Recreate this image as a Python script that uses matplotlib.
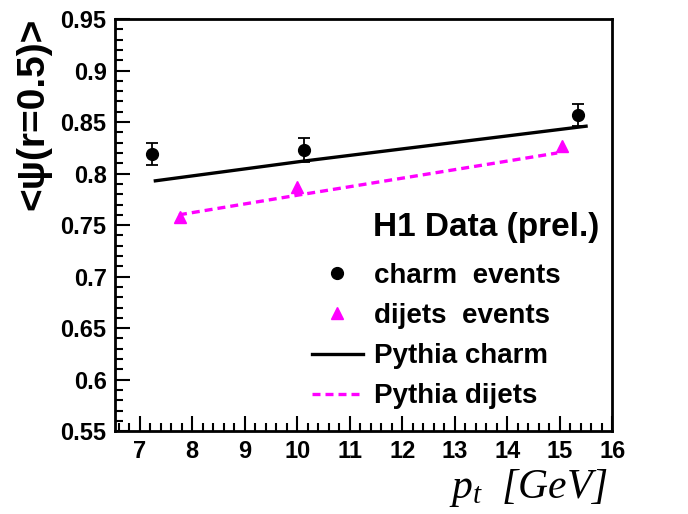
import numpy as np
import matplotlib; matplotlib.use('Agg')
import matplotlib.pyplot as plt
from matplotlib.ticker import MultipleLocator

plt.rcParams['font.family'] = ['Liberation Sans', 'DejaVu Sans']
plt.rcParams['font.weight'] = 'bold'
plt.rcParams['mathtext.fontset'] = 'custom'
plt.rcParams['mathtext.rm'] = 'Liberation Serif:style=italic:weight=normal'
plt.rcParams['mathtext.it'] = 'Liberation Serif:style=italic:weight=normal'

# data
charm_pt = [7.24, 10.13, 15.35]
charm_psi = [0.819, 0.823, 0.857]
charm_err = [0.011, 0.012, 0.011]
dijet_pt = [7.77, 10.0, 15.05]
dijet_psi = [0.758, 0.787, 0.827]
pyth_charm_pt = [7.3, 10.1, 15.5]
pyth_charm_psi = [0.793, 0.812, 0.846]
pyth_dijet_pt = [7.75, 10.0, 14.95]
pyth_dijet_psi = [0.760, 0.779, 0.820]

fig = plt.figure(figsize=(6.88, 5.14), dpi=100)
ax = fig.add_axes([0.167, 0.161, 0.723, 0.802])

ax.plot(pyth_charm_pt, pyth_charm_psi, color='black', lw=2.4, label='Pythia charm')
ax.plot(pyth_dijet_pt, pyth_dijet_psi, color='#ff00ff', lw=2.4, ls=(0, (2.4, 1.5)), label='Pythia dijets')
ax.errorbar(charm_pt, charm_psi, yerr=charm_err, fmt='none', ecolor='black', elinewidth=1.3, capsize=4, capthick=1.3)
ax.plot(charm_pt, charm_psi, 'o', color='black', ms=8.5, label='charm  events')
ax.plot(dijet_pt, dijet_psi, '^', color='#ff00ff', ms=8.5, label='dijets  events')

ax.set_xlim(6.53, 16)
ax.set_ylim(0.55, 0.95)
ax.xaxis.set_major_locator(MultipleLocator(1))
ax.xaxis.set_minor_locator(MultipleLocator(0.2))
ax.yaxis.set_minor_locator(MultipleLocator(0.01))
yt = np.round(np.arange(0.55, 0.951, 0.05), 2)
ax.set_yticks(yt)
ax.set_yticklabels([f"{v:g}" for v in yt])
ax.tick_params(which='both', direction='in', top=False, right=False, width=1.5)
ax.tick_params(which='major', length=11, labelsize=17, pad=6)
ax.tick_params(which='minor', length=5.5)
for lab in ax.get_xticklabels() + ax.get_yticklabels():
    lab.set_fontweight('bold')
for s in ax.spines.values():
    s.set_linewidth(2)

fig.text(0.048, 0.778, '<ψ(r=0.5)>', rotation=90, ha='center', va='center', fontsize=28, fontweight='bold')
fig.text(0.883, 0.05, r'$p_{t}\ \ [GeV]$', ha='right', va='center', fontsize=30)

fig.text(0.542, 0.558, 'H1 Data (prel.)', ha='left', va='center', fontsize=24, fontweight='bold')
h, l = ax.get_legend_handles_labels()
order = [2, 3, 0, 1]
ax.legend([h[i] for i in order], [l[i] for i in order], loc='upper left',
          bbox_to_anchor=(0.437, 0.510), bbox_transform=fig.transFigure, frameon=False,
          prop={'size': 20, 'weight': 'bold'}, handlelength=1.83, handletextpad=0.4,
          labelspacing=0.51, borderaxespad=0)

fig.savefig('out.png', dpi=100)
